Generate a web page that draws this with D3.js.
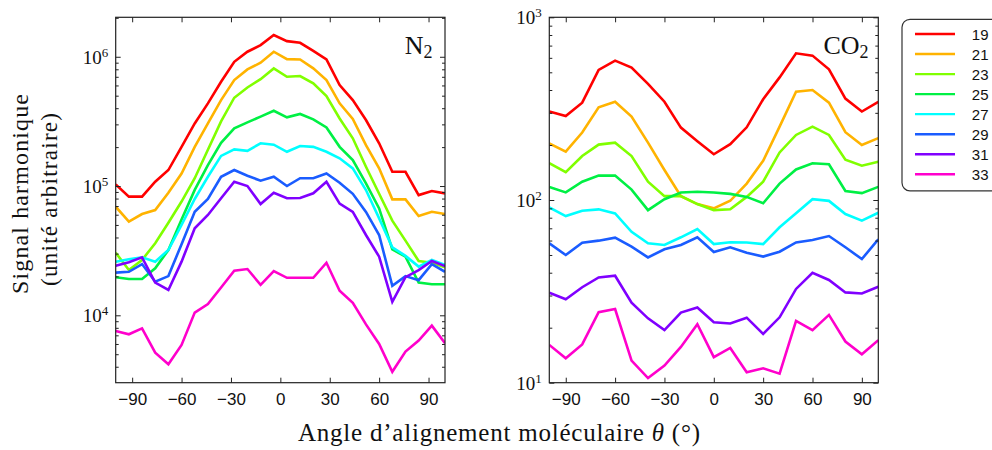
<!DOCTYPE html>
<html><head><meta charset="utf-8">
<script src="https://cdn.jsdelivr.net/npm/d3@7"></script>
<style>body{margin:0;background:#fff}svg{display:block}</style>
</head><body>
<svg id="chart" width="992" height="450"></svg>
<script>
// ---------- data ----------
const harmonics = ["19", "21", "23", "25", "27", "29", "31", "33"];
const colors = ["#ff0000", "#ffb300", "#80ff00", "#00f044", "#00ffff", "#1a5cff", "#8000ff", "#ff00cc"];
const xTicks = [-90, -60, -30, 0, 30, 60, 90];

const anglesN2 = [-100, -92, -84, -76, -68, -60, -52, -44, -36, -28, -20, -12, -4, 4, 12, 20, 28, 36, 44, 52, 60, 68, 76, 84, 92, 100];
const n2H19 = [103000, 82800, 82800, 108000, 133000, 201000, 305000, 436000, 641000, 914000, 1094000, 1230000, 1472000, 1321000, 1282000, 1112000, 953000, 604000, 462000, 324000, 214000, 129000, 129000, 85100, 91400, 87700];
const n2H21 = [69200, 53000, 60700, 65200, 88700, 125000, 201000, 305000, 462000, 661000, 798000, 899000, 1094000, 959000, 953000, 813000, 661000, 436000, 330000, 207000, 137000, 78900, 78900, 58600, 63200, 60700];
const n2H23 = [30500, 22400, 26800, 36100, 52000, 75900, 115000, 191000, 316000, 482000, 579000, 671000, 813000, 700000, 710000, 622000, 497000, 333000, 234000, 141000, 87100, 54000, 37800, 26300, 25500, 23500];
const n2H25 = [19700, 19100, 19100, 23100, 32000, 55000, 93300, 145000, 216000, 279000, 311000, 344000, 382000, 340000, 361000, 328000, 284000, 201000, 159000, 105000, 67100, 32400, 28400, 17900, 17400, 17400];
const n2H27 = [26000, 27100, 28100, 26000, 32000, 50100, 79400, 118000, 171000, 192000, 187000, 214000, 209000, 184000, 204000, 201000, 184000, 164000, 137000, 93100, 56200, 33600, 28800, 23800, 26800, 24500];
const n2H29 = [21400, 21700, 24900, 18200, 20100, 35500, 63200, 79400, 118000, 133000, 120000, 110000, 118000, 100000, 115000, 115000, 125000, 106000, 87100, 63100, 41800, 16900, 20100, 18700, 24900, 21700];
const n2H31 = [24200, 25700, 28100, 17900, 15700, 26000, 47100, 59700, 80400, 108000, 100000, 72600, 88700, 80400, 80800, 87900, 108000, 73100, 63100, 41800, 28400, 12700, 19700, 22400, 26300, 24000];
const n2H33 = [7570, 7130, 7930, 5140, 4180, 5900, 10500, 12200, 16400, 22100, 22800, 17200, 22000, 19500, 19500, 19500, 25500, 15500, 12500, 8510, 6000, 3660, 5240, 6370, 8320, 6080];

const anglesCO2 = [-100, -90, -80, -70, -60, -50, -40, -30, -20, -10, 0, 10, 20, 30, 40, 50, 60, 70, 80, 90, 100];
const co2H19 = [305, 288, 341, 515, 579, 530, 432, 345, 249, 210, 178, 202, 250, 356, 469, 635, 617, 519, 359, 305, 344];
const co2H21 = [204, 184, 234, 322, 345, 286, 206, 146, 105, 95, 90, 99, 123, 164, 252, 392, 400, 341, 235, 200, 218];
const co2H23 = [159, 142, 174, 201, 206, 174, 126, 105, 105, 95, 88, 89, 104, 126, 182, 227, 252, 227, 166, 154, 162];
const co2H25 = [118, 110, 126, 136, 136, 114, 88, 101, 110, 111, 110, 108, 104, 96, 123, 147, 159, 157, 112, 109, 118];
const co2H27 = [91, 81.7, 87.4, 88.9, 84.5, 67, 58, 56.7, 62.5, 69.4, 57.4, 58.7, 58.5, 57.4, 70.9, 84.5, 101, 98.9, 83.8, 77.1, 85.2];
const co2H29 = [57.9, 50.0, 58.4, 59.9, 62.2, 55.5, 48.5, 53.7, 56.7, 62.5, 51.9, 55.1, 51.5, 49.0, 52.1, 58.6, 60.4, 63.5, 55.1, 47.5, 60.9];
const co2H31 = [31.1, 28.6, 33.3, 37.7, 38.5, 27.4, 22.5, 19.4, 24.2, 25.8, 21.4, 21.1, 22.7, 18.5, 22.8, 32.6, 40.0, 36.5, 31.2, 30.8, 33.5];
const co2H33 = [16.1, 13.6, 16.2, 24.3, 25.3, 13.2, 10.6, 12.4, 15.7, 20.9, 13.8, 15.5, 11.4, 12.0, 11.2, 21.8, 19.4, 23.5, 16.8, 14.3, 17.1];

const n2Majors = [1e4, 1e5, 1e6];
const co2Majors = [1e1, 1e2, 1e3];

// ---------- drawing ----------
const svg = d3.select("#chart");
const serif = "'Liberation Serif', 'Times New Roman', serif";
const sans = "'Liberation Sans', Arial, Helvetica, sans-serif";
const frameColor = "#222";

function minorTicks(domain) {
  const out = [];
  const lo = Math.floor(Math.log10(domain[0])), hi = Math.ceil(Math.log10(domain[1]));
  for (let e = lo; e <= hi; e++) for (let m = 2; m <= 9; m++) {
    const v = m * Math.pow(10, e);
    if (v > domain[0] && v < domain[1]) out.push(v);
  }
  return out;
}

function drawPanel(p, idx) {
  const x = d3.scaleLinear().domain([-100, 100]).range([p.left, p.right]);
  const y = d3.scaleLog().domain(p.yDomain).range([p.bottom, p.top]);
  const g = svg.append("g");

  const clipId = "clip" + idx;
  svg.append("clipPath").attr("id", clipId).append("rect")
    .attr("x", p.left).attr("y", p.top).attr("width", p.right - p.left).attr("height", p.bottom - p.top);

  const line = d3.line().x((d, i) => x(p.angles[i])).y(d => y(d));
  g.append("g").attr("clip-path", `url(#${clipId})`)
    .selectAll("path").data(p.series).join("path")
    .attr("d", d => line(d))
    .attr("fill", "none")
    .attr("stroke", (d, i) => colors[i])
    .attr("stroke-width", 2.6)
    .attr("stroke-linejoin", "miter");

  const minors = minorTicks(p.yDomain);
  const styleAxis = sel => {
    sel.select(".domain").remove();
    sel.selectAll(".tick line").attr("stroke", frameColor).attr("stroke-width", 1);
  };
  g.append("g").attr("transform", `translate(0,${p.bottom})`)
    .call(d3.axisBottom(x).tickValues(xTicks).tickSize(-5).tickPadding(10))
    .call(styleAxis)
    .call(s => s.selectAll("text").attr("font-family", sans).attr("font-size", 17).attr("fill", "#111"));
  g.append("g").attr("transform", `translate(0,${p.top})`)
    .call(d3.axisTop(x).tickValues(xTicks).tickSize(-5).tickFormat(""))
    .call(styleAxis);
  g.append("g").attr("transform", `translate(${p.left},0)`)
    .call(d3.axisLeft(y).tickValues(p.majors).tickSize(-5).tickFormat("")).call(styleAxis);
  g.append("g").attr("transform", `translate(${p.left},0)`)
    .call(d3.axisLeft(y).tickValues(minors).tickSize(-3).tickFormat("")).call(styleAxis);
  g.append("g").attr("transform", `translate(${p.right},0)`)
    .call(d3.axisRight(y).tickValues(p.majors).tickSize(-5).tickFormat("")).call(styleAxis);
  g.append("g").attr("transform", `translate(${p.right},0)`)
    .call(d3.axisRight(y).tickValues(minors).tickSize(-3).tickFormat("")).call(styleAxis);

  const lab = g.append("g");
  p.majors.forEach(v => {
    const t = lab.append("text")
      .attr("x", p.left - 7.5).attr("y", y(v) + 7)
      .attr("text-anchor", "end")
      .attr("font-family", serif).attr("font-size", 19).attr("fill", "#111");
    t.append("tspan").text("10");
    t.append("tspan").attr("font-size", 13).attr("dy", -7).text(String(Math.round(Math.log10(v))));
  });

  g.append("rect")
    .attr("x", p.left).attr("y", p.top)
    .attr("width", p.right - p.left).attr("height", p.bottom - p.top)
    .attr("fill", "none").attr("stroke", frameColor).attr("stroke-width", 1.2);

  const m = g.append("text")
    .attr("x", p.labelX).attr("y", 54)
    .attr("text-anchor", "end")
    .attr("font-family", serif).attr("font-size", 26).attr("fill", "#111");
  m.append("tspan").text(p.label);
  m.append("tspan").attr("font-size", 18).attr("dy", 4).text("2");
}

const panels = [
  { left: 115.7, right: 445, top: 17.3, bottom: 382.7, yDomain: [3010, 2.02e6], majors: n2Majors,
    angles: anglesN2, series: [n2H19, n2H21, n2H23, n2H25, n2H27, n2H29, n2H31, n2H33], label: "N", labelX: 432.5 },
  { left: 549.3, right: 878.3, top: 17.3, bottom: 382.7, yDomain: [10, 1000], majors: co2Majors,
    angles: anglesCO2, series: [co2H19, co2H21, co2H23, co2H25, co2H27, co2H29, co2H31, co2H33], label: "CO", labelX: 868.5 }
];
panels.forEach(drawPanel);

const xt = svg.append("text")
  .attr("x", 499).attr("y", 441)
  .attr("text-anchor", "middle")
  .attr("font-family", serif).attr("font-size", 25).attr("fill", "#111")
  .attr("textLength", 402).attr("lengthAdjust", "spacing");
xt.append("tspan").text("Angle d\u2019alignement moléculaire ");
xt.append("tspan").attr("font-style", "italic").text("θ");
xt.append("tspan").text(" (°)");

svg.append("text")
  .attr("transform", "translate(28,194) rotate(-90)")
  .attr("text-anchor", "middle")
  .attr("font-family", serif).attr("font-size", 24).attr("fill", "#111")
  .attr("textLength", 200).attr("lengthAdjust", "spacing")
  .text("Signal harmonique");
svg.append("text")
  .attr("transform", "translate(57,199.5) rotate(-90)")
  .attr("text-anchor", "middle")
  .attr("font-family", serif).attr("font-size", 23).attr("fill", "#111")
  .attr("textLength", 173).attr("lengthAdjust", "spacing")
  .text("(unité arbitraire)");

const leg = svg.append("g");
leg.append("rect")
  .attr("x", 902).attr("y", 19.3).attr("width", 110).attr("height", 171.5)
  .attr("rx", 8).attr("ry", 8)
  .attr("fill", "#fff").attr("stroke", "#333").attr("stroke-width", 1.2);
const rowY = d3.scaleLinear().domain([0, harmonics.length - 1]).range([34, 174.3]);
harmonics.forEach((h, i) => {
  leg.append("line")
    .attr("x1", 915).attr("x2", 955).attr("y1", rowY(i)).attr("y2", rowY(i))
    .attr("stroke", colors[i]).attr("stroke-width", 2.4);
  leg.append("text")
    .attr("x", 988.5).attr("y", rowY(i) + 5.5)
    .attr("text-anchor", "end")
    .attr("font-family", sans).attr("font-size", 15).attr("fill", "#111")
    .text(h);
});
</script>
</body></html>
